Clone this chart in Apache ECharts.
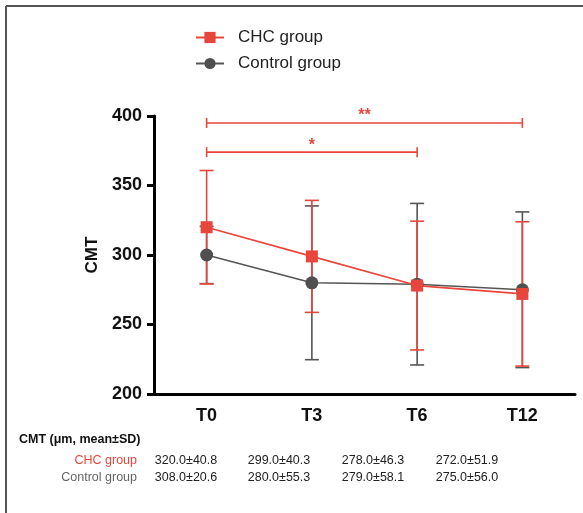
<!DOCTYPE html>
<html>
<head>
<meta charset="utf-8">
<script src="https://cdn.jsdelivr.net/npm/echarts@6/dist/echarts.min.js"></script>
<style>
html,body{margin:0;padding:0;background:#fff;}
#chart{width:583px;height:513px;}
</style>
</head>
<body>
<div id="chart"></div>
<script>
const categories = ['T0', 'T3', 'T6', 'T12'];
const chcMean = [320, 299, 278, 272];
const chcSD = [40.8, 40.3, 46.3, 51.9];
const controlMean = [300, 280, 279, 275];
const controlSD = [20.6, 55.3, 58.1, 56.0];
const yMin = 200, yMax = 400, yInterval = 50;
// significance brackets: [fromIndex, toIndex, yValue, label]
const sigBrackets = [[0, 2, 374, '*'], [0, 3, 395, '**']];
const tableTitle = 'CMT (μm, mean±SD)';
const tableCHC = ['320.0±40.8', '299.0±40.3', '278.0±46.3', '272.0±51.9'];
const tableControl = ['308.0±20.6', '280.0±55.3', '279.0±58.1', '275.0±56.0'];

const RED = '#e8463c';
const GREY = '#4f4f4f';
const FONT = '"Liberation Sans", Arial, Helvetica, sans-serif';

function errorBarRender(color) {
  return function (params, api) {
    const x = api.value(0), m = api.value(1), sd = api.value(2);
    const top = api.coord([x, m + sd]);
    const bot = api.coord([x, m - sd]);
    const w = 7;
    const st = { stroke: color, lineWidth: 1.6 };
    return {
      type: 'group',
      children: [
        { type: 'line', shape: { x1: top[0], y1: top[1], x2: bot[0], y2: bot[1] }, style: st },
        { type: 'line', shape: { x1: top[0] - w, y1: top[1], x2: top[0] + w, y2: top[1] }, style: st },
        { type: 'line', shape: { x1: bot[0] - w, y1: bot[1], x2: bot[0] + w, y2: bot[1] }, style: st }
      ]
    };
  };
}

const chart = echarts.init(document.getElementById('chart'), null, { renderer: 'canvas' });

const colX = [186, 279, 373, 467];
const graphics = [
  { type: 'line', shape: { x1: 6, y1: 6, x2: 583, y2: 6 }, style: { stroke: '#555', lineWidth: 2 } },
  { type: 'line', shape: { x1: 6, y1: 6, x2: 6, y2: 513 }, style: { stroke: '#555', lineWidth: 2 } },
  { type: 'text', left: 19, top: 433, style: { text: tableTitle, font: 'bold 12.5px ' + FONT, fill: '#111' } },
  { type: 'text', x: 137, y: 461, style: { text: 'CHC group', align: 'right', verticalAlign: 'middle', font: '12.5px ' + FONT, fill: RED } },
  { type: 'text', x: 137, y: 478, style: { text: 'Control group', align: 'right', verticalAlign: 'middle', font: '12.5px ' + FONT, fill: '#666' } }
];
tableCHC.forEach((t, i) => graphics.push({ type: 'text', x: colX[i], y: 461, style: { text: t, align: 'center', verticalAlign: 'middle', font: '12.5px ' + FONT, fill: '#222' } }));
tableControl.forEach((t, i) => graphics.push({ type: 'text', x: colX[i], y: 478, style: { text: t, align: 'center', verticalAlign: 'middle', font: '12.5px ' + FONT, fill: '#222' } }));

chart.setOption({
  backgroundColor: '#fff',
  animation: false,
  textStyle: { fontFamily: FONT },
  grid: { left: 154, right: 8, top: 116, bottom: 119, containLabel: false },
  legend: {
    data: ['CHC group', 'Control group'],
    orient: 'vertical',
    left: 195,
    top: 29,
    padding: 0,
    itemWidth: 28,
    itemHeight: 14,
    itemGap: 9,
    textStyle: { fontSize: 17, color: '#222', fontFamily: FONT, padding: [0, 0, 0, 9] }
  },
  xAxis: {
    type: 'category',
    data: categories,
    boundaryGap: true,
    axisLine: { lineStyle: { color: '#000', width: 3 } },
    axisTick: { alignWithLabel: true, length: 7, lineStyle: { color: '#000', width: 3 } },
    axisLabel: { color: '#111', fontSize: 18, fontWeight: 'bold', margin: 13 }
  },
  yAxis: {
    type: 'value',
    min: yMin,
    max: yMax,
    interval: yInterval,
    name: 'CMT',
    nameLocation: 'middle',
    nameGap: 48,
    nameTextStyle: { fontSize: 17, fontWeight: 'bold', color: '#111' },
    splitLine: { show: false },
    axisLine: { show: true, lineStyle: { color: '#000', width: 3 } },
    axisTick: { show: true, length: 7, lineStyle: { color: '#000', width: 3 } },
    axisLabel: { color: '#111', fontSize: 18, fontWeight: 'bold', margin: 12 }
  },
  graphic: graphics,
  series: [
    {
      name: 'ctrlErr', type: 'custom', z: 1,
      renderItem: errorBarRender('#555'),
      encode: { x: 0, y: 1 },
      data: controlMean.map((m, i) => [i, m, controlSD[i]])
    },
    {
      name: 'chcErr', type: 'custom', z: 2,
      renderItem: errorBarRender(RED),
      encode: { x: 0, y: 1 },
      data: chcMean.map((m, i) => [i, m, chcSD[i]])
    },
    {
      name: 'Control group', type: 'line', z: 3,
      data: controlMean,
      symbol: 'circle', symbolSize: 13,
      itemStyle: { color: GREY },
      lineStyle: { color: '#555', width: 1.6 }
    },
    {
      name: 'CHC group', type: 'line', z: 4,
      data: chcMean,
      symbol: 'rect', symbolSize: 12,
      itemStyle: { color: RED },
      lineStyle: { color: RED, width: 1.6 }
    },
    {
      name: 'sig', type: 'custom', z: 5,
      encode: { x: 0, y: 2 },
      data: sigBrackets,
      renderItem: function (params, api) {
        const x0 = api.value(0), x1 = api.value(1), y = api.value(2);
        const label = sigBrackets[params.dataIndex][3];
        const p0 = api.coord([x0, y]);
        const p1 = api.coord([x1, y]);
        const h = 5;
        const st = { stroke: RED, lineWidth: 1.6 };
        return {
          type: 'group',
          children: [
            { type: 'line', shape: { x1: p0[0], y1: p0[1], x2: p1[0], y2: p1[1] }, style: st },
            { type: 'line', shape: { x1: p0[0], y1: p0[1] - h, x2: p0[0], y2: p0[1] + h }, style: st },
            { type: 'line', shape: { x1: p1[0], y1: p1[1] - h, x2: p1[0], y2: p1[1] + h }, style: st },
            { type: 'text', style: { text: label, x: (p0[0] + p1[0]) / 2, y: p0[1] - 7, align: 'center', verticalAlign: 'middle', fill: RED, font: 'bold 16px ' + FONT } }
          ]
        };
      }
    }
  ]
});
</script>
</body>
</html>
